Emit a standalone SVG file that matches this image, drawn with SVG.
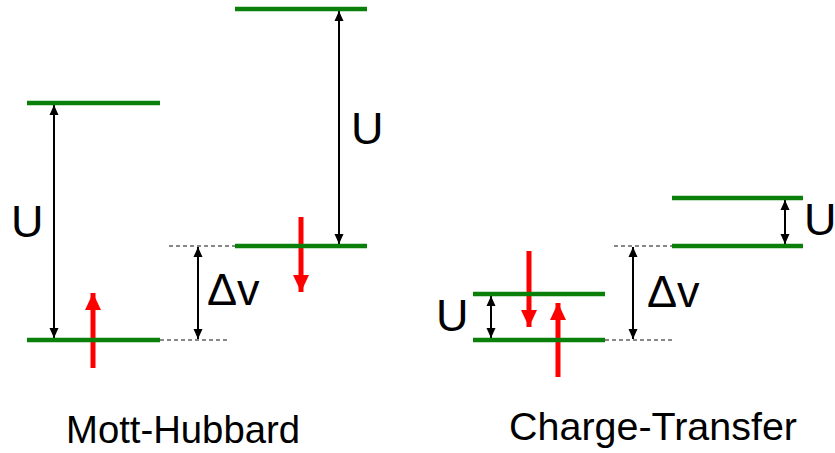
<svg xmlns="http://www.w3.org/2000/svg" width="835" height="453" viewBox="0 0 835 453">
<style>
.lvl{stroke:#0a800a;stroke-width:4.5;fill:none}
.dash{stroke:#111;stroke-width:1;stroke-dasharray:4 3;fill:none}
.dim{stroke:#000;stroke-width:2;fill:none;marker-start:url(#bh);marker-end:url(#bh)}
.spin{stroke:#ff0000;stroke-width:5;fill:none;marker-end:url(#rh)}
.sym{font-family:"Liberation Sans",Arial,sans-serif;font-size:45px;fill:#000}
.cap{font-family:"Liberation Sans",Arial,sans-serif;font-size:39px;fill:#000}
</style>
<defs>
<marker id="bh" markerUnits="userSpaceOnUse" markerWidth="10" markerHeight="10" refX="10" refY="4.5" orient="auto-start-reverse" viewBox="0 0 10 9">
<path d="M0,0 L10,4.5 L0,9 z" fill="#000"/>
</marker>
<marker id="rh" markerUnits="userSpaceOnUse" markerWidth="17" markerHeight="16" refX="17" refY="8" orient="auto" viewBox="0 0 17 16">
<path d="M0,0 L17,8 L0,16 z" fill="#ff0000"/>
</marker>
</defs>
<g id="connectors">
<line class="dash" x1="160" y1="340" x2="228" y2="340"/>
<line class="dash" x1="169" y1="246" x2="235" y2="246"/>
<line class="dash" x1="605" y1="340" x2="673" y2="340"/>
<line class="dash" x1="614" y1="246" x2="672" y2="246"/>
<line class="dim" x1="54" y1="105" x2="54" y2="338"/>
<line class="dim" x1="198" y1="247" x2="198" y2="339"/>
<line class="dim" x1="339" y1="11" x2="339" y2="244"/>
<line class="dim" x1="491" y1="296" x2="491" y2="338"/>
<line class="dim" x1="633" y1="247" x2="633" y2="339"/>
<line class="dim" x1="785" y1="200" x2="785" y2="244"/>
<line class="spin" x1="93" y1="368" x2="93" y2="293"/>
<line class="spin" x1="301" y1="217" x2="301" y2="292"/>
<line class="spin" x1="529" y1="251" x2="529" y2="327"/>
<line class="spin" x1="558" y1="377" x2="558" y2="303"/>
</g>
<g id="mh-upper"><line class="lvl" x1="27" y1="103" x2="160" y2="103"/></g>
<g id="mh-lower"><line class="lvl" x1="27" y1="340" x2="160" y2="340"/></g>
<g id="mh2-upper"><line class="lvl" x1="235" y1="9" x2="367" y2="9"/></g>
<g id="mh2-lower"><line class="lvl" x1="235" y1="246" x2="367" y2="246"/></g>
<g id="ct-upper"><line class="lvl" x1="473" y1="294" x2="605" y2="294"/></g>
<g id="ct-lower"><line class="lvl" x1="473" y1="340" x2="605" y2="340"/></g>
<g id="ct2-upper"><line class="lvl" x1="672" y1="198" x2="803" y2="198"/></g>
<g id="ct2-lower"><line class="lvl" x1="672" y1="246" x2="803" y2="246"/></g>
<g id="labels">
<text class="sym" x="11" y="237">U</text>
<text class="sym" x="351" y="144">U</text>
<text class="sym" x="436" y="331">U</text>
<text class="sym" x="804" y="235">U</text>
<text class="sym" x="207" y="305">Δv</text>
<text class="sym" x="647" y="307">Δv</text>
<text class="cap" x="66" y="443" textLength="234" lengthAdjust="spacingAndGlyphs">Mott-Hubbard</text>
<text class="cap" x="509" y="440" textLength="288" lengthAdjust="spacingAndGlyphs">Charge-Transfer</text>
</g>
</svg>
